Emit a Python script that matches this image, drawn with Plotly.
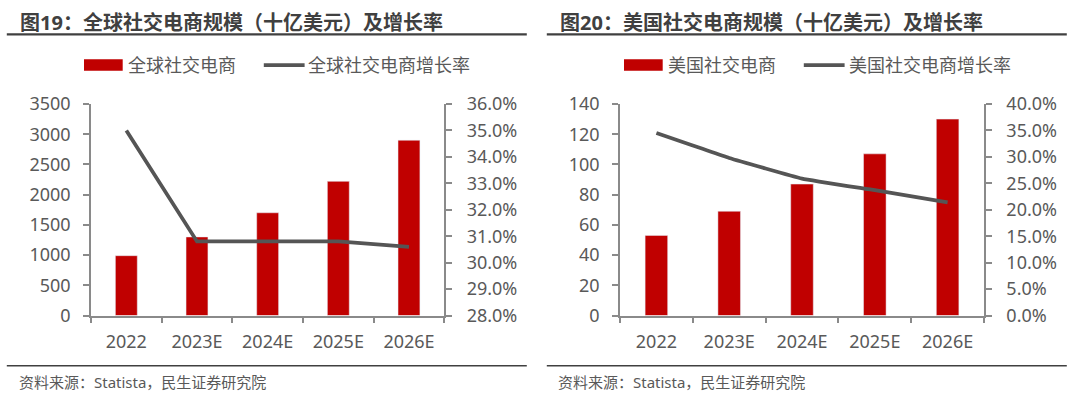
import plotly.graph_objects as go

categories = ["2022", "2023E", "2024E", "2025E", "2026E"]
global_scale = [990, 1300, 1700, 2220, 2900]
global_growth = [0.350, 0.308, 0.308, 0.308, 0.306]
us_scale = [53, 69, 87, 107, 130]
us_growth = [0.345, 0.298, 0.259, 0.237, 0.214]

left_yticks = [0, 500, 1000, 1500, 2000, 2500, 3000, 3500]
left_y2ticks = [0.28, 0.29, 0.30, 0.31, 0.32, 0.33, 0.34, 0.35, 0.36]
right_yticks = [0, 20, 40, 60, 80, 100, 120, 140]
right_y2ticks = [0.0, 0.05, 0.10, 0.15, 0.20, 0.25, 0.30, 0.35, 0.40]

titles = ["图19：全球社交电商规模（十亿美元）及增长率", "图20：美国社交电商规模（十亿美元）及增长率"]
bar_names = ["全球社交电商", "美国社交电商"]
line_names = ["全球社交电商增长率", "美国社交电商增长率"]
source = "资料来源：Statista，民生证券研究院"

W, H = 1080, 396
RED = "#C00000"
LINE = "#555555"
TXT = "#595959"
AX = "#8a8a8a"
FONT = "Noto Sans, Noto Sans CJK SC"

def px(x):
    return x / W

def py(y):
    return 1 - y / H

fig = go.Figure()

fig.add_trace(go.Bar(x=categories, y=global_scale, marker_color=RED, width=0.31,
                     xaxis="x", yaxis="y", showlegend=False))
fig.add_trace(go.Scatter(x=categories, y=global_growth, mode="lines",
                         line=dict(color=LINE, width=3.75), xaxis="x", yaxis="y2", showlegend=False))
fig.add_trace(go.Bar(x=categories, y=us_scale, marker_color=RED, width=0.31,
                     xaxis="x2", yaxis="y3", showlegend=False))
fig.add_trace(go.Scatter(x=categories, y=us_growth, mode="lines",
                         line=dict(color=LINE, width=3.75, shape="spline", smoothing=0.3),
                         xaxis="x2", yaxis="y4", showlegend=False))

ydom = [py(315.5), py(104)]
tickfont = dict(family=FONT, size=18, color=TXT)

common_x = dict(type="category", showline=True, linecolor=AX, linewidth=1.5,
                ticks="outside", ticklen=6, tickcolor=AX, tickwidth=1.5,
                tickson="boundaries", showgrid=False, zeroline=False, automargin=False,
                tickfont=tickfont, ticklabelstandoff=9, fixedrange=True)
common_y = dict(showline=True, linecolor=AX, linewidth=1.5, ticks="outside",
                ticklen=6, tickcolor=AX, tickwidth=1.5, showgrid=False, automargin=False,
                zeroline=False, tickfont=tickfont, fixedrange=True)

fig.update_layout(
    width=W, height=H,
    autosize=False,
    margin=dict(l=0, r=0, t=0, b=0, pad=0, autoexpand=False),
    paper_bgcolor="white", plot_bgcolor="white",
    xaxis=dict(domain=[px(91), px(444.3)], anchor="y", **common_x),
    yaxis=dict(domain=ydom, anchor="x", range=[0, 3500], tickvals=left_yticks,
               ticklabelstandoff=9, **common_y),
    yaxis2=dict(domain=ydom, anchor="x", overlaying="y", side="right",
                range=[0.28, 0.36], tickvals=left_y2ticks, tickformat=".1%",
                ticklabelstandoff=11, **common_y),
    xaxis2=dict(domain=[px(620), px(984)], anchor="y3", **common_x),
    yaxis3=dict(domain=ydom, anchor="x2", range=[0, 140], tickvals=right_yticks,
                ticklabelstandoff=9, **common_y),
    yaxis4=dict(domain=ydom, anchor="x2", overlaying="y3", side="right",
                range=[0, 0.40], tickvals=right_y2ticks, tickformat=".1%",
                ticklabelstandoff=11, **common_y),
)

shapes = []
annotations = []
for i, off in enumerate([0, 540]):
    annotations.append(dict(x=px(off + 17.5), y=py(23), xref="paper", yref="paper",
                            xanchor="left", yanchor="middle", showarrow=False,
                            text="<b>" + titles[i] + "</b>",
                            font=dict(family=FONT, size=20, color="#404040")))
    shapes.append(dict(type="line", xref="paper", yref="paper",
                       x0=px(off + 6.8), x1=px(off + 526.8), y0=py(34.3), y1=py(34.3),
                       line=dict(color="#404040", width=2.2)))
    shapes.append(dict(type="line", xref="paper", yref="paper",
                       x0=px(off + 6.8), x1=px(off + 526.8), y0=py(365.7), y1=py(365.7),
                       line=dict(color="#404040", width=1.5)))
    shapes.append(dict(type="rect", xref="paper", yref="paper",
                       x0=px(off + 84), x1=px(off + 122.7), y0=py(70.7), y1=py(59.3),
                       fillcolor=RED, line=dict(width=0)))
    annotations.append(dict(x=px(off + 125.5), y=py(65), xref="paper", yref="paper",
                            xanchor="left", yanchor="middle", showarrow=False,
                            text=bar_names[i], font=dict(family=FONT, size=18, color=TXT)))
    shapes.append(dict(type="line", xref="paper", yref="paper",
                       x0=px(off + 263.8), x1=px(off + 304.6), y0=py(65), y1=py(65),
                       line=dict(color=LINE, width=3.75)))
    annotations.append(dict(x=px(off + 306.5), y=py(65), xref="paper", yref="paper",
                            xanchor="left", yanchor="middle", showarrow=False,
                            text=line_names[i], font=dict(family=FONT, size=18, color=TXT)))
    annotations.append(dict(x=px(off + 16.5), y=py(382), xref="paper", yref="paper",
                            xanchor="left", yanchor="middle", showarrow=False,
                            text=source, font=dict(family=FONT, size=15, color=TXT)))

fig.update_layout(shapes=shapes, annotations=annotations)
fig.write_html("out.html", config={"displayModeBar": False},
               post_script="document.body.style.margin='0';document.body.style.overflow='hidden';")
